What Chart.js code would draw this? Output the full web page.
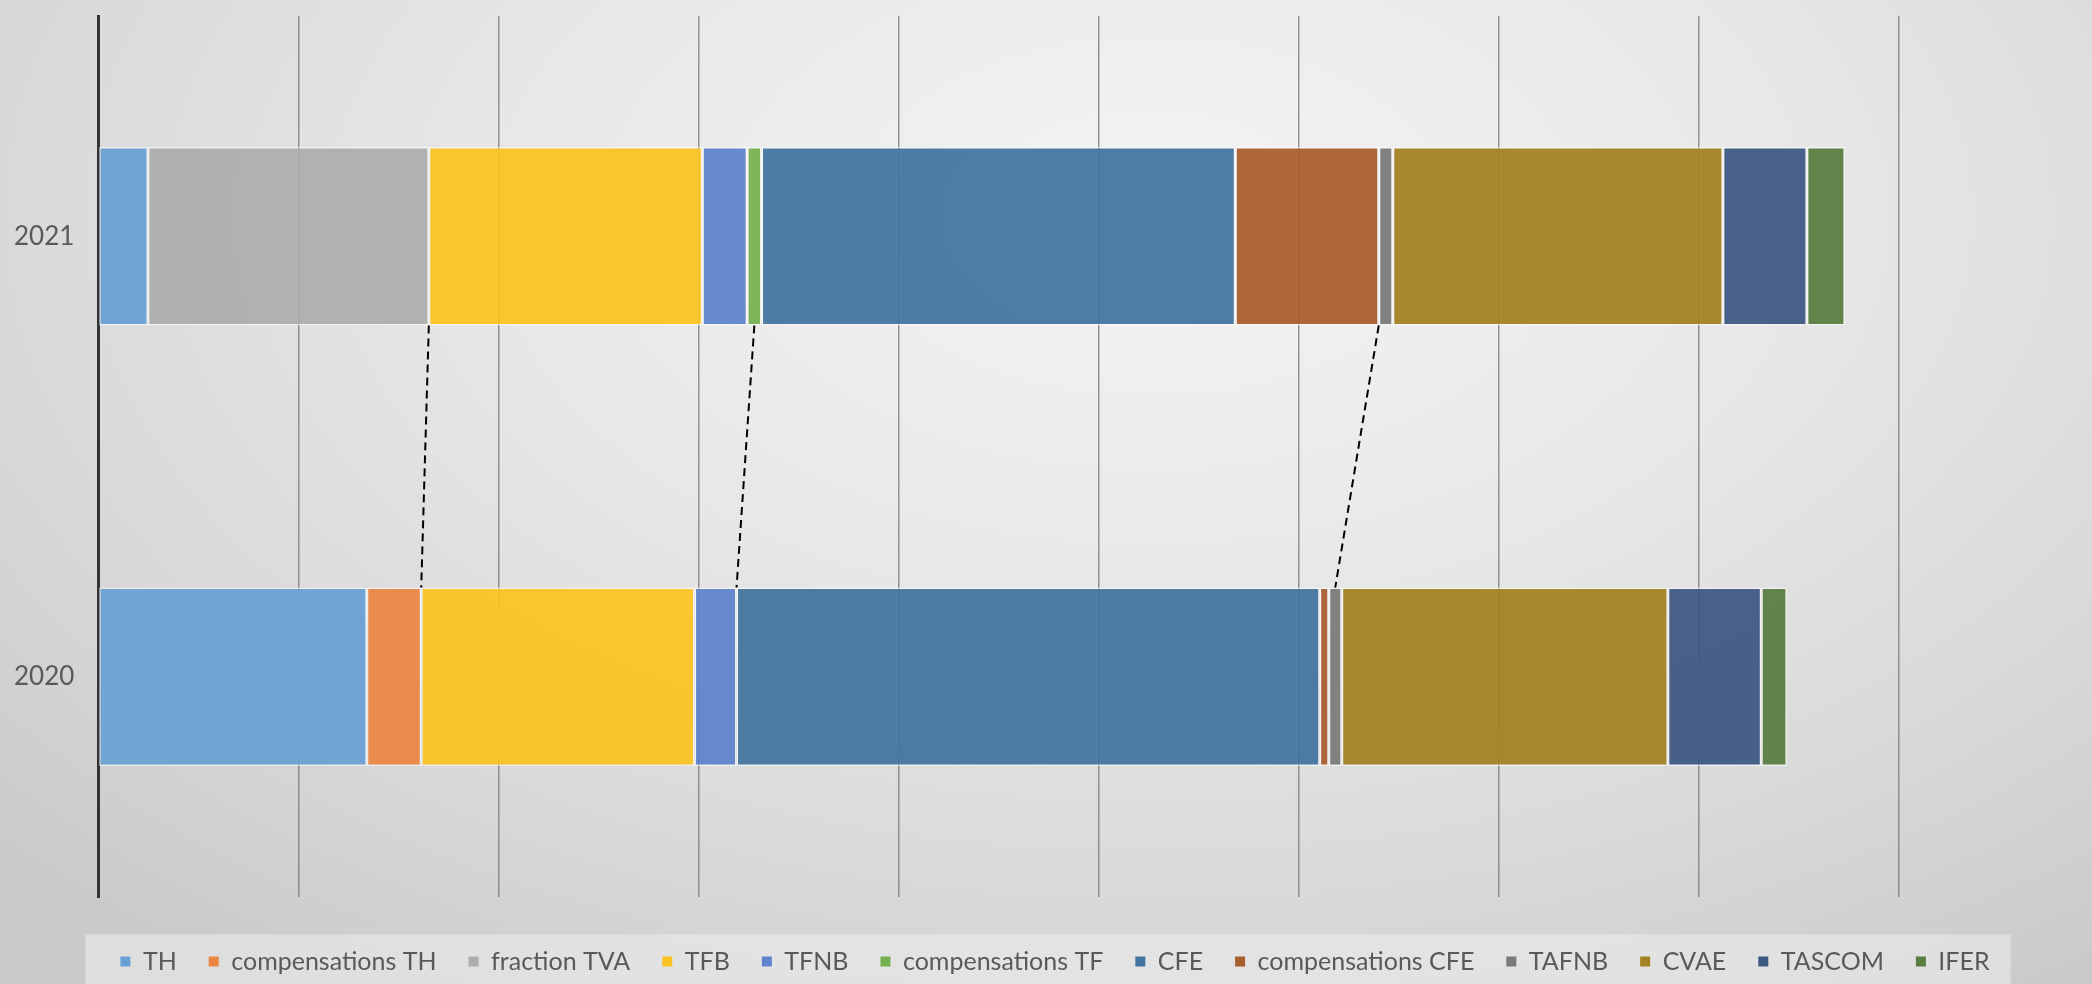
<!DOCTYPE html>
<html>
<head>
<meta charset="utf-8">
<script src="https://cdn.jsdelivr.net/npm/chart.js@4.4.1/dist/chart.umd.min.js"></script>
<style>
  html, body { margin: 0; padding: 0; }
  body {
    width: 2092px; height: 984px; overflow: hidden;
    background: radial-gradient(ellipse 75% 95% at 55% 22%, #f4f4f4 0%, #e8e8e8 40%, #d8d8d8 75%, #cacaca 100%);
  }
  #wrap { position: relative; width: 2092px; height: 984px; }
</style>
</head>
<body>
<div id="wrap"><canvas id="c"></canvas></div>
<script>
// ---- data ----
const categories = ['2021', '2020'];
const seriesNames = ['TH', 'compensations TH', 'fraction TVA', 'TFB', 'TFNB', 'compensations TF',
  'CFE', 'compensations CFE', 'TAFNB', 'CVAE', 'TASCOM', 'IFER'];
const values2021 = [0.248, 0, 1.404, 1.367, 0.224, 0.072, 2.368, 0.717, 0.070, 1.650, 0.420, 0.190];
const values2020 = [1.342, 0.272, 0, 1.366, 0.210, 0, 2.915, 0.045, 0.065, 1.630, 0.467, 0.128];
// dashed connectors: [series in 2021, fraction of segment, series in 2020, fraction of segment]
const connectors = [
  ['fraction TVA', 1, 'compensations TH', 1],
  ['compensations TF', 0.5, 'TFNB', 1],
  ['compensations CFE', 1, 'TAFNB', 0.5]
];
const xAxisMax = 9.965;

// ---- styles ----
const seriesColors = ['#6aa0d4', '#eb8642', '#adadad', '#fac423', '#5f84cc', '#75b24f',
  '#42749f', '#a85e2d', '#7a7a7a', '#a38223', '#3e5884', '#587d41'];

function hexA(hex, a) {
  const n = parseInt(hex.slice(1), 16);
  return `rgba(${(n >> 16) & 255},${(n >> 8) & 255},${n & 255},${a})`;
}

const datasets = seriesNames.map((name, i) => ({
  label: name,
  data: [values2021[i], values2020[i]],
  backgroundColor: hexA(seriesColors[i], 0.94),
  borderColor: 'rgba(255,255,255,0.55)',
  borderWidth: 1.5,
  borderSkipped: false,
  categoryPercentage: 0.81,
  barPercentage: 0.5
}));

const FONT = 'Lato';

const legendBgPlugin = {
  id: 'legendBg',
  beforeDraw(chart) {
    const lg = chart.legend;
    if (!lg || !lg.legendHitBoxes || !lg.legendHitBoxes.length) return;
    const hb = lg.legendHitBoxes;
    const first = hb[0], last = hb[hb.length - 1];
    const x0 = first.left - 35;
    const x1 = last.left + last.width + 21;
    const y0 = first.top + first.height / 2 - 27;
    const ctx = chart.ctx;
    ctx.save();
    ctx.fillStyle = 'rgba(238,238,238,0.55)';
    ctx.fillRect(x0, y0, x1 - x0, chart.height - y0);
    ctx.restore();
  }
};

const connectorPlugin = {
  id: 'connectors',
  afterDatasetsDraw(chart) {
    const xs = chart.scales.x;
    const ctx = chart.ctx;
    const segPos = (catIndex, seriesName, frac) => {
      const si = seriesNames.indexOf(seriesName);
      let cum = 0;
      for (let k = 0; k < si; k++) cum += chart.data.datasets[k].data[catIndex];
      cum += chart.data.datasets[si].data[catIndex] * frac;
      return xs.getPixelForValue(cum);
    };
    const barGeom = (catIndex) => {
      const el = chart.getDatasetMeta(0).data[catIndex];
      return { top: el.y - el.height / 2, bottom: el.y + el.height / 2 };
    };
    const g21 = barGeom(0), g20 = barGeom(1);
    ctx.save();
    ctx.strokeStyle = '#000';
    ctx.lineWidth = 2;
    ctx.setLineDash([8, 5]);
    connectors.forEach(([s1, f1, s2, f2]) => {
      const xa = segPos(0, s1, f1);
      const xb = segPos(1, s2, f2);
      ctx.beginPath();
      ctx.moveTo(xa, g21.bottom);
      ctx.lineTo(xb, g20.top);
      ctx.stroke();
    });
    ctx.restore();
  }
};

new Chart(document.getElementById('c'), {
  type: 'bar',
  data: { labels: categories, datasets },
  options: {
    indexAxis: 'y',
    responsive: true,
    maintainAspectRatio: false,
    animation: false,
    layout: { padding: { left: 14, top: 16, right: -4, bottom: 0 } },
    scales: {
      x: {
        type: 'linear',
        stacked: true,
        min: 0,
        max: xAxisMax,
        ticks: { display: false, stepSize: 1 },
        grid: {
          color: (c) => (c.tick && Number.isInteger(c.tick.value) && c.tick.value <= 9) ? 'rgba(110,110,110,0.7)' : 'rgba(0,0,0,0)',
          lineWidth: 1.5,
          drawTicks: false
        },
        border: { display: false }
      },
      y: {
        stacked: true,
        grid: { display: true, drawOnChartArea: false, drawTicks: true, tickLength: 24, color: 'rgba(0,0,0,0)' },
        border: { display: true, color: '#333333', width: 3 },
        ticks: { font: { family: FONT, size: 26, lineHeight: 0.5 }, color: '#595959', padding: 0 }
      }
    },
    plugins: {
      tooltip: { enabled: false },
      legend: {
        position: 'bottom',
        title: { display: true, text: '', padding: { top: 8, bottom: 0 }, font: { size: 10 } },
        labels: {
          font: { family: FONT, size: 25 },
          color: '#595959',
          boxWidth: 10,
          boxHeight: 10,
          padding: 32,
          generateLabels(chart) {
            const items = Chart.defaults.plugins.legend.labels.generateLabels(chart);
            items.forEach((it, i) => {
              it.fillStyle = seriesColors[i];
              it.strokeStyle = 'rgba(0,0,0,0)';
              it.lineWidth = 0;
            });
            return items;
          }
        }
      }
    }
  },
  plugins: [legendBgPlugin, connectorPlugin]
});
</script>
</body>
</html>
